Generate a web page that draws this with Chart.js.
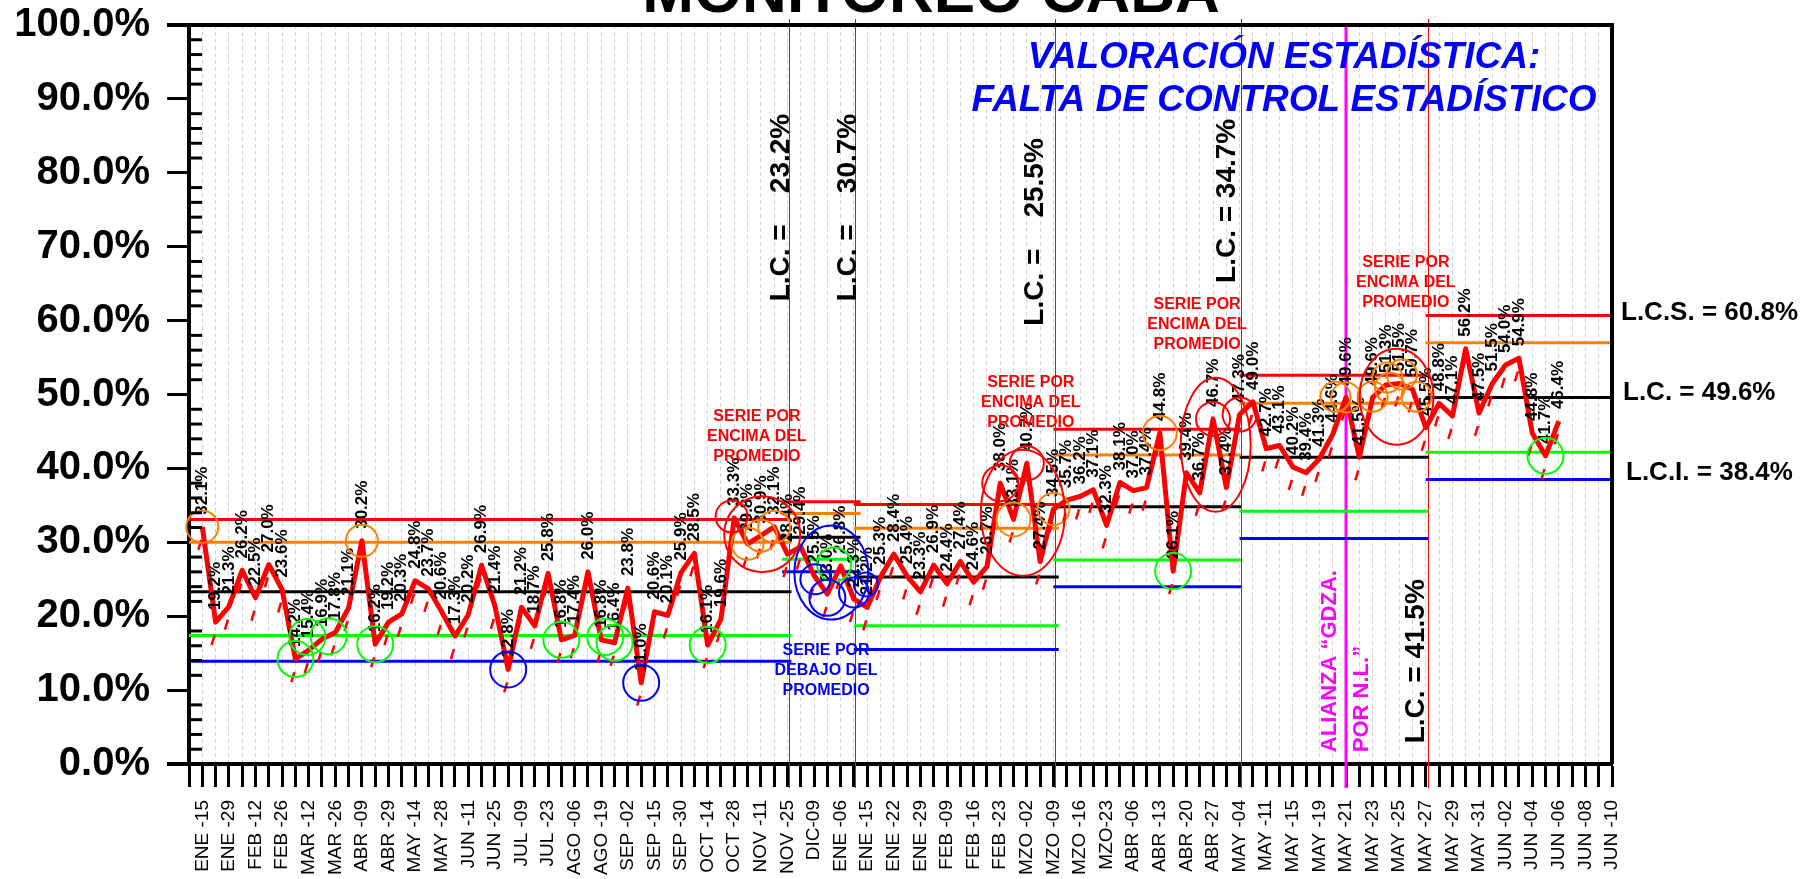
<!DOCTYPE html>
<html>
<head>
<meta charset="utf-8">
<script src="https://cdn.jsdelivr.net/npm/chart.js@4.4.1/dist/chart.umd.min.js"></script>
<style>
  html, body { margin: 0; padding: 0; background: #fff; }
  #wrap { width: 1802px; height: 879px; }
</style>
</head>
<body>
<div id="wrap"><canvas id="chart" width="1802" height="879"></canvas></div>
<script>
// x tick labels (one every second point)
var tickLabels = ["ENE -15","ENE -29","FEB -12","FEB -26","MAR -12","MAR -26","ABR -09","ABR -29","MAY -14","MAY -28",
  "JUN -11","JUN -25","JUL -09","JUL -23","AGO -06","AGO -19","SEP -02","SEP -15","SEP -30","OCT -14",
  "OCT -28","NOV -11","NOV -25","DIC-09","ENE -06","ENE -15","ENE -22","ENE -29","FEB -09","FEB -16",
  "FEB -23","MZO -02","MZO -09","MZO -16","MZO-23","ABR -06","ABR -13","ABR -20","ABR -27","MAY -04",
  "MAY -11","MAY -15","MAY -19","MAY -21","MAY -23","MAY -25","MAY -27","MAY -29","MAY -31","JUN -02",
  "JUN -04","JUN -06","JUN -08","JUN -10"];

// porcentajes
var values = [32.1,19.2,21.3,26.2,22.5,27.0,23.6,14.2,15.4,16.9,
  17.8,21.1,30.2,16.2,19.2,20.3,24.8,23.7,20.6,17.3,
  20.2,26.9,21.4,12.8,21.2,18.7,25.8,16.8,17.4,26.0,
  16.8,16.4,23.8,11.0,20.6,20.1,25.9,28.5,16.1,19.6,
  33.3,29.8,30.9,32.1,28.4,29.4,25.5,23.0,26.8,22.3,
  21.2,25.3,28.4,25.4,23.3,26.9,24.4,27.4,24.6,26.7,
  38.0,33.1,40.7,27.4,34.5,35.7,36.2,37.1,32.3,38.1,
  37.0,37.4,44.8,26.1,39.4,36.7,46.7,37.4,47.3,49.0,
  42.7,43.1,40.2,39.4,41.3,44.6,49.6,41.5,49.6,51.3,
  51.5,50.7,45.5,48.8,47.1,56.2,47.5,51.5,54.0,54.9,
  44.8,41.7,46.4];

// limites por etapa
var segStart = [-1, 43.6, 49.0, 64.0, 78.0, 92.0];
var segEnd   = [44.3, 49.5, 64.4, 78.1, 92.2, 106];
var lcsValues    = [33.1, 35.5, 35.1, 45.3, 52.6, 60.7];
var upper2Values = [30.0, 33.9, 31.9, 41.8, 48.8, 57.0];
var lcValues     = [23.3, 30.7, 25.3, 34.8, 41.5, 49.6];
var lower2Values = [17.4, 27.7, 18.7, 27.6, 34.2, 42.2];
var lciValues    = [13.9, 26.0, 15.5, 24.0, 30.5, 38.5];
var phaseBreaks = [44.1, 49.1, 64.1, 78.1, 92.2];
var allianceAt = 86;

var RED = '#ff0000', ORANGE = '#ff8000', GREEN = '#00ff00', BLUE = '#0000ff', MAGENTA = '#ff00ff';
var FONT = '"Liberation Sans", Arial, sans-serif';

// circulos: [x, y, rx, ry, color]
function onPoint(i, r, c) { return [i, values[i], r, r, c]; }
var rings = [
  onPoint(0, 16, ORANGE), onPoint(12, 16, ORANGE), onPoint(41, 16, ORANGE), onPoint(42, 16, ORANGE),
  onPoint(43, 16, ORANGE), onPoint(61, 17, ORANGE), onPoint(64, 16, ORANGE), onPoint(72, 17, ORANGE),
  [85.2, 49.7, 15, 15, ORANGE], onPoint(86, 15, ORANGE), [88.0, 49.7, 15, 15, ORANGE],
  [89.1, 52.3, 15, 15, ORANGE], [89.3, 50.9, 15, 15, ORANGE], [90.2, 52.7, 15, 15, ORANGE], [91.3, 49.7, 15, 15, ORANGE],
  onPoint(7, 18, GREEN), [7.9, 17.2, 18, 18, GREEN], [9.5, 17.3, 18, 18, GREEN], onPoint(13, 18, GREEN),
  onPoint(27, 18, GREEN), [30.3, 17.2, 18, 18, GREEN], onPoint(31, 18, GREEN), onPoint(38, 18, GREEN),
  [47.5, 27.0, 17, 17, GREEN], onPoint(73, 18, GREEN), onPoint(101, 18, GREEN),
  onPoint(23, 18, BLUE), onPoint(33, 18, BLUE),
  [46.1, 25.0, 15, 15, BLUE], [47.0, 22.5, 18, 18, BLUE], [49.0, 23.2, 15, 15, BLUE], [49.9, 24.3, 12, 12, BLUE],
  [47.3, 25.9, 37, 47, BLUE],
  [39.8, 33.5, 16, 16, RED], [42.1, 31.1, 38, 38, RED],
  onPoint(60, 18, RED), onPoint(62, 17, RED), [61.7, 34.0, 42, 63, RED],
  onPoint(76, 17, RED), onPoint(78, 17, RED), [76.2, 43.2, 35, 67, RED],
  [89.8, 49.7, 37, 48, RED]
];

var lcNotes = [["L.C. =    23.2%", 43.5, 75.3], ["L.C. =    30.7%", 48.6, 75.3], ["L.C. =    25.5%", 62.6, 72.0],
  ["L.C. = 34.7%", 77.1, 76.2], ["L.C. = 41.5%", 91.3, 13.9]];
var serieNotes = [
  [["SERIE POR", "ENCIMA DEL", "PROMEDIO"], 41.7, 47.0, RED],
  [["SERIE POR", "ENCIMA DEL", "PROMEDIO"], 62.3, 51.6, RED],
  [["SERIE POR", "ENCIMA DEL", "PROMEDIO"], 74.8, 62.2, RED],
  [["SERIE POR", "ENCIMA DEL", "PROMEDIO"], 90.5, 67.8, RED],
  [["SERIE POR", "DEBAJO DEL", "PROMEDIO"], 46.9, 15.4, BLUE]
];

var datasets = [{
  data: values.map(function (v, i) { return {x: i, y: v}; }),
  borderColor: RED, borderWidth: 5, pointRadius: 0, tension: 0, borderJoinStyle: 'round'
}];
var limits = [[lcsValues, RED], [upper2Values, ORANGE], [lcValues, '#000000'], [lower2Values, GREEN], [lciValues, BLUE]];
for (var s = 0; s < segStart.length; s++) {
  limits.forEach(function (l) {
    datasets.push({
      data: [{x: segStart[s], y: l[0][s]}, {x: segEnd[s], y: l[0][s]}],
      borderColor: l[1], borderWidth: 3, pointRadius: 0
    });
  });
}

var overlay = {
  id: 'overlay',
  beforeDatasetsDraw: function (chart) {
    var ctx = chart.ctx, xs = chart.scales.x, a = chart.chartArea;
    ctx.save();
    ctx.strokeStyle = RED; ctx.lineWidth = 1;
    phaseBreaks.forEach(function (b) {
      var x = Math.round(xs.getPixelForValue(b)) + 0.5;
      ctx.beginPath(); ctx.moveTo(x, a.top - 6); ctx.lineTo(x, a.bottom + 24); ctx.stroke();
    });
    ctx.strokeStyle = MAGENTA; ctx.lineWidth = 3;
    var mx = xs.getPixelForValue(allianceAt);
    ctx.beginPath(); ctx.moveTo(mx, a.top); ctx.lineTo(mx, a.bottom + 24); ctx.stroke();
    ctx.restore();
  },
  afterDatasetsDraw: function (chart) {
    var ctx = chart.ctx, xs = chart.scales.x, ys = chart.scales.y;
    var pts = chart.getDatasetMeta(0).data;
    ctx.save();
    // marcas rojas bajo cada punto
    ctx.strokeStyle = RED; ctx.lineWidth = 2.5;
    pts.forEach(function (p) {
      ctx.beginPath(); ctx.moveTo(p.x - 4, p.y + 23); ctx.lineTo(p.x - 1, p.y + 13); ctx.stroke();
    });
    // etiquetas
    ctx.fillStyle = '#000'; ctx.font = 'bold 17px ' + FONT;
    ctx.textAlign = 'left'; ctx.textBaseline = 'middle';
    pts.forEach(function (p, i) {
      ctx.save(); ctx.translate(p.x, p.y - 12); ctx.rotate(-Math.PI / 2);
      ctx.fillText(values[i].toFixed(1) + '%', 0, 0);
      ctx.restore();
    });
    // circulos
    ctx.lineWidth = 2;
    rings.forEach(function (r) {
      ctx.strokeStyle = r[4];
      ctx.beginPath();
      ctx.ellipse(xs.getPixelForValue(r[0]), ys.getPixelForValue(r[1]), r[2], r[3], 0, 0, Math.PI * 2);
      ctx.stroke();
    });
    ctx.restore();
  },
  afterDraw: function (chart) {
    var ctx = chart.ctx, xs = chart.scales.x, ys = chart.scales.y, a = chart.chartArea;
    ctx.save();
    // bordes
    ctx.strokeStyle = '#000'; ctx.lineWidth = 4;
    ctx.beginPath(); ctx.moveTo(167, a.top); ctx.lineTo(a.right + 2, a.top); ctx.stroke();
    ctx.beginPath(); ctx.moveTo(a.right, a.top); ctx.lineTo(a.right, a.bottom); ctx.stroke();
    ctx.beginPath(); ctx.moveTo(167, a.bottom); ctx.lineTo(a.left, a.bottom); ctx.stroke();
    ctx.lineWidth = 3;
    for (var v = 2; v < 100; v += 2) {
      if (v % 10 === 0) continue;
      var y = ys.getPixelForValue(v);
      ctx.beginPath(); ctx.moveTo(a.left, y); ctx.lineTo(a.left + 13, y); ctx.stroke();
    }
    // titulo
    ctx.fillStyle = '#000'; ctx.textAlign = 'center'; ctx.textBaseline = 'alphabetic';
    ctx.font = 'bold 62px ' + FONT;
    ctx.fillText('MONITOREO CABA', 931, 12);
    ctx.fillStyle = BLUE; ctx.textBaseline = 'middle';
    ctx.font = 'italic bold 37px ' + FONT;
    ctx.fillText('VALORACIÓN ESTADÍSTICA:', 1284, 58);
    ctx.fillText('FALTA DE CONTROL ESTADÍSTICO', 1284, 101);
    // L.C. verticales
    ctx.fillStyle = '#000'; ctx.font = 'bold 28px ' + FONT;
    lcNotes.forEach(function (n) {
      ctx.save(); ctx.translate(xs.getPixelForValue(n[1]), ys.getPixelForValue(n[2])); ctx.rotate(-Math.PI / 2);
      ctx.fillText(n[0], 0, 0); ctx.restore();
    });
    // series
    ctx.font = 'bold 16px ' + FONT;
    serieNotes.forEach(function (n) {
      ctx.fillStyle = n[3];
      var x = xs.getPixelForValue(n[1]), y = ys.getPixelForValue(n[2]);
      n[0].forEach(function (t, k) { ctx.fillText(t, x, y + k * 20); });
    });
    // alianza
    ctx.fillStyle = MAGENTA; ctx.font = 'bold 22px ' + FONT; ctx.textAlign = 'left';
    [['ALIANZA \u201CGDZA.', 84.8], ['POR N.L.\u201D', 87.2]].forEach(function (n) {
      ctx.save(); ctx.translate(xs.getPixelForValue(n[1]), ys.getPixelForValue(1.6)); ctx.rotate(-Math.PI / 2);
      ctx.fillText(n[0], 0, 0); ctx.restore();
    });
    // limites finales
    ctx.fillStyle = '#000'; ctx.font = 'bold 26px ' + FONT;
    ctx.fillText('L.C.S. = 60.8%', 1621, 313);
    ctx.fillText('L.C. = 49.6%', 1623, 393);
    ctx.fillText('L.C.I. = 38.4%', 1626, 473);
    ctx.restore();
  }
};

new Chart(document.getElementById('chart'), {
  type: 'line',
  data: {datasets: datasets},
  options: {
    responsive: false,
    animation: false,
    devicePixelRatio: 1,
    layout: {padding: {top: 25, right: 190, left: 0, bottom: 0}},
    plugins: {legend: {display: false}, tooltip: {enabled: false}},
    scales: {
      x: {
        type: 'linear', min: -1, max: 106,
        afterBuildTicks: function (scale) {
          var t = [];
          for (var i = -1; i <= 106; i++) t.push({value: i});
          scale.ticks = t;
        },
        afterFit: function (scale) { scale.height = 115; scale.paddingLeft = 0; scale.paddingRight = 0; },
        ticks: {
          autoSkip: false, minRotation: 90, maxRotation: 90, padding: 13, color: '#000',
          font: {family: FONT, size: 19},
          callback: function (v) { return (v >= 0 && v % 2 === 0) ? tickLabels[v / 2] : ''; }
        },
        grid: {
          color: function (c) { return c.tick && c.tick.value === -1 ? 'rgba(0,0,0,0)' : '#d2d2d2'; },
          lineWidth: 1, tickColor: '#000', tickWidth: 3, tickLength: 23
        },
        border: {color: '#000', width: 4, dash: [4, 3]}
      },
      y: {
        min: 0, max: 100,
        afterFit: function (scale) { scale.width = 189; scale.paddingTop = 0; scale.paddingBottom = 0; },
        ticks: {
          stepSize: 10, padding: 17, color: '#000',
          font: {family: FONT, size: 40, weight: 'bold'},
          callback: function (v) { return v.toFixed(1) + '%'; }
        },
        grid: {drawOnChartArea: false, tickColor: '#000', tickWidth: 3, tickLength: 22},
        border: {color: '#000', width: 4}
      }
    }
  },
  plugins: [overlay]
});
</script>
</body>
</html>
